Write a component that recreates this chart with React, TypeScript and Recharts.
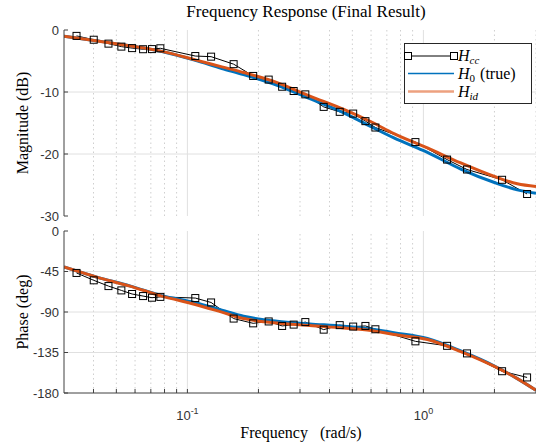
import { LineChart, Line, XAxis, YAxis, ReferenceLine } from 'recharts'

// measured response H_cc (square markers)
const ccFreq = [
  0.0339, 0.0401, 0.0463, 0.0525, 0.0583, 0.0649, 0.0708, 0.0768, 0.108, 0.126,
  0.157, 0.19, 0.221, 0.252, 0.282, 0.316, 0.378, 0.442, 0.504, 0.568, 0.626,
  0.925, 1.26, 1.53, 2.155, 2.75,
]
const ccMag = [
  -0.95, -1.57, -2.2, -2.68, -2.92, -3.1, -3.08, -2.95, -4.2, -4.3, -5.51, -7.41,
  -8.0, -9.15, -9.84, -10.38, -12.4, -13.2, -13.48, -14.7, -15.73, -18.08, -20.9,
  -22.5, -24.16, -26.45,
]
const ccPhase = [
  -46.6, -54.8, -61.2, -66, -70, -72.3, -74.1, -73.2, -74.5, -79.4, -97.3, -102.6,
  -100.5, -105.5, -104, -101.2, -109.6, -104.6, -106.2, -105.5, -109.2, -122.6,
  -127.6, -136, -155.8, -162.7,
]

// smooth curves H_0 (true) and H_id
const curveFreq = [
  0.03, 0.041, 0.057, 0.078, 0.108, 0.14, 0.173, 0.24, 0.33, 0.46, 0.6, 0.75, 1.04,
  1.44, 2.0, 2.5, 3.0,
]
const magTrue = [
  -1.02, -1.74, -2.55, -3.47, -4.9, -6.2, -7.18, -8.92, -11.07, -13.35, -15.6,
  -17.4, -19.73, -22.43, -24.6, -25.78, -26.32,
]
const magId = [
  -1.02, -1.74, -2.55, -3.45, -4.82, -5.95, -6.86, -8.48, -10.65, -12.81, -14.8,
  -16.7, -19.02, -21.45, -23.63, -24.81, -25.25,
]
const phaseTrue = [
  -40, -51, -61, -71.8, -79.7, -88, -94.7, -100.3, -103.2, -105.9, -108.8, -113,
  -119.5, -133.3, -150, -164, -177,
]
const phaseId = [
  -40, -51, -61.2, -72.3, -81.6, -90.2, -97.3, -102.1, -105.1, -107.7, -110.5,
  -115, -120.5, -134, -150.5, -164, -177,
]

const magTicks = [-30, -20, -10, 0]
const phaseTicks = [-180, -135, -90, -45, 0]
const freqTicks = [
  0.04, 0.05, 0.06, 0.07, 0.08, 0.09, 0.1, 0.2, 0.3, 0.4, 0.5, 0.6, 0.7, 0.8, 0.9,
  1, 2, 3,
]
const majorFreq = [0.1, 1]
const minorFreq = freqTicks.filter((f) => !majorFreq.includes(f))

const ccData = ccFreq.map((f, i) => ({ f, mag: ccMag[i], phase: ccPhase[i] }))
const curveData = curveFreq.map((f, i) => ({
  f,
  magTrue: magTrue[i],
  magId: magId[i],
  phaseTrue: phaseTrue[i],
  phaseId: phaseId[i],
}))

const BLUE = '#0072BD'
const ORANGE = '#D95319'
const AXIS = '#404040'
const TICK_FONT = "'Liberation Sans', Arial, sans-serif"
const SERIF = "'Liberation Serif', 'Times New Roman', serif"

const Square = (props: any) => {
  const { cx, cy } = props
  if (cx == null || cy == null) return null
  return (
    <rect x={cx - 3.5} y={cy - 3.5} width={7} height={7} fill="none" stroke="#000" strokeWidth={1} />
  )
}

const FreqTick = ({ x, y, payload }: any) => {
  const lg = Math.log10(payload.value)
  const e = Math.round(lg)
  if (Math.abs(lg - e) > 1e-6) return <g />
  return (
    <text x={x} y={y + 31} textAnchor="middle" fill="#333" fontSize={13} fontFamily={TICK_FONT}>
      10
      <tspan dy={-6.5} fontSize={9}>
        {e}
      </tspan>
    </text>
  )
}

const Panel = ({ kind, height, margin, yDomain, yTicks, showX }: any) => {
  const keyTrue = kind === 'mag' ? 'magTrue' : 'phaseTrue'
  const keyId = kind === 'mag' ? 'magId' : 'phaseId'
  const majorY = yTicks.slice(1, -1)
  return (
    <LineChart width={536} height={height} data={curveData} margin={margin}>
      <XAxis
        dataKey="f"
        type="number"
        scale="log"
        domain={[0.03, 3]}
        allowDataOverflow
        ticks={freqTicks}
        interval={0}
        height={showX ? 30 : 0}
        tick={showX ? <FreqTick /> : false}
        tickSize={-4}
        tickMargin={0}
        stroke={AXIS}
      />
      <XAxis
        xAxisId="top"
        orientation="top"
        dataKey="f"
        type="number"
        scale="log"
        domain={[0.03, 3]}
        allowDataOverflow
        ticks={freqTicks}
        interval={0}
        height={0}
        tick={false}
        tickSize={-4}
        stroke={AXIS}
      />
      <YAxis
        type="number"
        domain={yDomain}
        ticks={yTicks}
        interval={0}
        width={40}
        tickSize={-4}
        tickMargin={9}
        stroke={AXIS}
        tick={{ fontSize: 13, fill: '#333', fontFamily: TICK_FONT }}
      />
      {minorFreq.map((f) => (
        <ReferenceLine key={`mn-${f}`} x={f} stroke="#cfcfcf" strokeDasharray="1.5 3" />
      ))}
      {majorFreq.map((f) => (
        <ReferenceLine key={`mj-${f}`} x={f} stroke="#e0e0e0" />
      ))}
      {majorY.map((v: number) => (
        <ReferenceLine key={`hy-${v}`} y={v} stroke="#e0e0e0" />
      ))}
      <Line
        data={ccData}
        dataKey={kind}
        type="linear"
        stroke="#000"
        strokeWidth={1}
        dot={<Square />}
        isAnimationActive={false}
      />
      <Line
        dataKey={keyTrue}
        type="monotone"
        stroke={BLUE}
        strokeWidth={3}
        dot={false}
        isAnimationActive={false}
      />
      <Line
        dataKey={keyId}
        type="monotone"
        stroke={ORANGE}
        strokeWidth={3}
        dot={false}
        isAnimationActive={false}
      />
    </LineChart>
  )
}

const Overlay = () => (
  <svg
    width={536}
    height={446}
    style={{ position: 'absolute', left: 0, top: 0, pointerEvents: 'none' }}
  >
    <text x={306} y={17} textAnchor="middle" fontSize={17} fontFamily={SERIF} fill="#000">
      Frequency Response (Final Result)
    </text>
    <text
      transform="translate(28,123) rotate(-90)"
      textAnchor="middle"
      fontSize={16}
      fontFamily={SERIF}
      fill="#000"
    >
      Magnitude (dB)
    </text>
    <text
      transform="translate(28,312) rotate(-90)"
      textAnchor="middle"
      fontSize={16}
      fontFamily={SERIF}
      fill="#000"
    >
      Phase (deg)
    </text>
    <text x={301} y={438} textAnchor="middle" fontSize={16} fontFamily={SERIF} fill="#000">
      {'Frequency\u00a0\u00a0\u00a0(rad/s)'}
    </text>

    {/* legend */}
    <rect x={404.5} y={43.5} width={127} height={60} fill="#fff" stroke="#262626" strokeWidth={1} />
    <line x1={408} y1={56} x2={454} y2={56} stroke="#000" strokeWidth={1} />
    <rect x={404.5} y={52.5} width={7} height={7} fill="#fff" stroke="#000" />
    <rect x={450.5} y={52.5} width={7} height={7} fill="#fff" stroke="#000" />
    <text x={458} y={61} fontSize={16} fontFamily={SERIF} fill="#000" fontStyle="italic">
      H
      <tspan fontSize={11} dy={3}>
        cc
      </tspan>
    </text>
    <line x1={408} y1={73.5} x2={454} y2={73.5} stroke={BLUE} strokeWidth={1.5} />
    <text x={458} y={79} fontSize={16} fontFamily={SERIF} fill="#000">
      <tspan fontStyle="italic">H</tspan>
      <tspan fontSize={11} dy={3}>
        0
      </tspan>
      <tspan dy={-3} dx={5}>
        (true)
      </tspan>
    </text>
    <line x1={408} y1={91.5} x2={454} y2={91.5} stroke="#EDA17F" strokeWidth={2.5} />
    <text x={458} y={97} fontSize={16} fontFamily={SERIF} fill="#000" fontStyle="italic">
      H
      <tspan fontSize={11} dy={3}>
        id
      </tspan>
    </text>
  </svg>
)

export default function App() {
  return (
    <div
      style={{
        position: 'absolute',
        left: 0,
        top: 0,
        width: 536,
        height: 446,
        overflow: 'hidden',
        background: '#fff',
      }}
    >
      <div style={{ position: 'absolute', left: 0, top: 0 }}>
        <Panel
          kind="mag"
          height={228}
          margin={{ top: 30, right: 0, bottom: 12, left: 24 }}
          yDomain={[-30, 0]}
          yTicks={magTicks}
          showX={false}
        />
      </div>
      <div style={{ position: 'absolute', left: 0, top: 200 }}>
        <Panel
          kind="phase"
          height={246}
          margin={{ top: 31, right: 0, bottom: 23, left: 24 }}
          yDomain={[-180, 0]}
          yTicks={phaseTicks}
          showX
        />
      </div>
      <Overlay />
    </div>
  )
}
